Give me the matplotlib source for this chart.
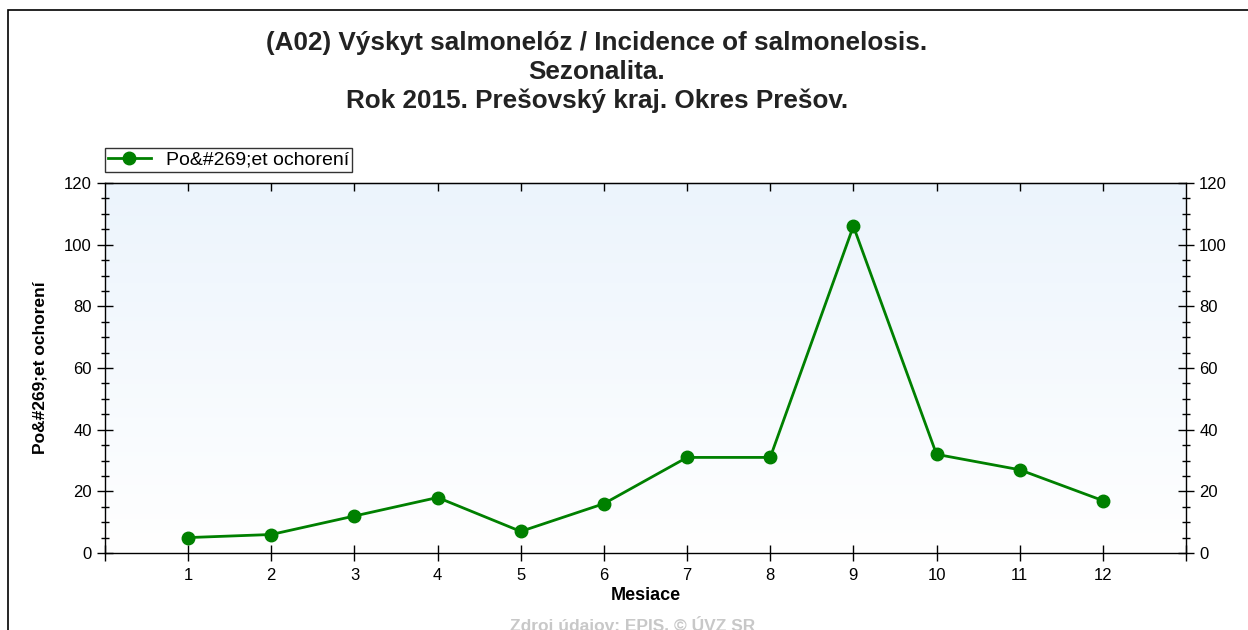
import numpy as np
import matplotlib.pyplot as plt
from matplotlib.patches import Rectangle
from matplotlib.ticker import MultipleLocator

plt.rcParams['font.family'] = ['Liberation Sans', 'DejaVu Sans']

months = [1, 2, 3, 4, 5, 6, 7, 8, 9, 10, 11, 12]
cases = [5, 6, 12, 18, 7, 16, 31, 31, 106, 32, 27, 17]
series_name = 'Po&#269;et ochorení'
title_lines = ['(A02) Výskyt salmonelóz / Incidence of salmonelosis.',
               'Sezonalita.',
               'Rok 2015. Prešovský kraj. Okres Prešov.']

fig = plt.figure(figsize=(12.48, 6.30), dpi=100)
ax = fig.add_axes([105 / 1248, 1 - 553 / 630, (1186 - 105) / 1248, (553 - 183) / 630])

# outer frame of the image (only left and top visible)
fig.patches.append(Rectangle((8 / 1248, -0.1), 1.5, 1 - 10 / 630 + 0.1, transform=fig.transFigure,
                             fill=False, edgecolor='black', linewidth=1.2))

# light blue gradient background
grad = np.linspace(0, 1, 256).reshape(-1, 1)
top = np.array([0.925, 0.957, 0.99])
bot = np.array([1.0, 1.0, 1.0])
img = bot + (top - bot) * grad
ax.imshow(img[:, None, :].repeat(2, axis=1), extent=[0, 13, 0, 120], origin='lower',
          aspect='auto', zorder=0)

ax.plot(months, cases, color='#008000', linewidth=2, marker='o', markersize=9,
        label=series_name, zorder=3)

ax.set_xlim(0, 13)
ax.set_ylim(0, 120)
ax.set_xticks([0] + months + [13], [''] + [str(m) for m in months] + [''])
ax.yaxis.set_major_locator(MultipleLocator(20))
ax.yaxis.set_minor_locator(MultipleLocator(5))
ax.tick_params(axis='y', which='major', direction='inout', length=11, width=1,
               left=True, right=True, labelleft=True, labelright=True, labelsize=12, pad=4)
ax.tick_params(axis='y', which='minor', direction='inout', length=6, width=1,
               left=True, right=True)
ax.tick_params(axis='x', which='major', direction='inout', length=11, width=1,
               bottom=True, labelsize=12, pad=5)
top_ax = ax.secondary_xaxis('top')
top_ax.set_xticks(months)
top_ax.tick_params(direction='in', length=6, width=1, labeltop=False)
for s in ax.spines.values():
    s.set_linewidth(1)

ax.set_xlabel('Mesiace', fontsize=13, fontweight='bold', labelpad=3)
ax.set_ylabel(series_name, fontsize=12.5, fontweight='bold', labelpad=12)

for i, line in enumerate(title_lines):
    fig.text(597 / 1248, 1 - (43 + 29 * i) / 630, line, ha='center', va='center',
             fontsize=18.8, fontweight='bold', color='#222222')

leg = ax.legend(loc='lower left', bbox_to_anchor=(0, 1.03), frameon=True, fancybox=False,
                fontsize=14, borderpad=0.15, handlelength=2.2, borderaxespad=0, handletextpad=0.8)
leg.get_frame().set_edgecolor('black')
leg.get_frame().set_linewidth(1)

fig.text(633 / 1248, 1 - 625 / 630, 'Zdroj údajov: EPIS. © ÚVZ SR', ha='center', va='center',
         fontsize=12.5, fontweight='bold', color='#c8c8c8')

fig.savefig('out.png', dpi=100)
